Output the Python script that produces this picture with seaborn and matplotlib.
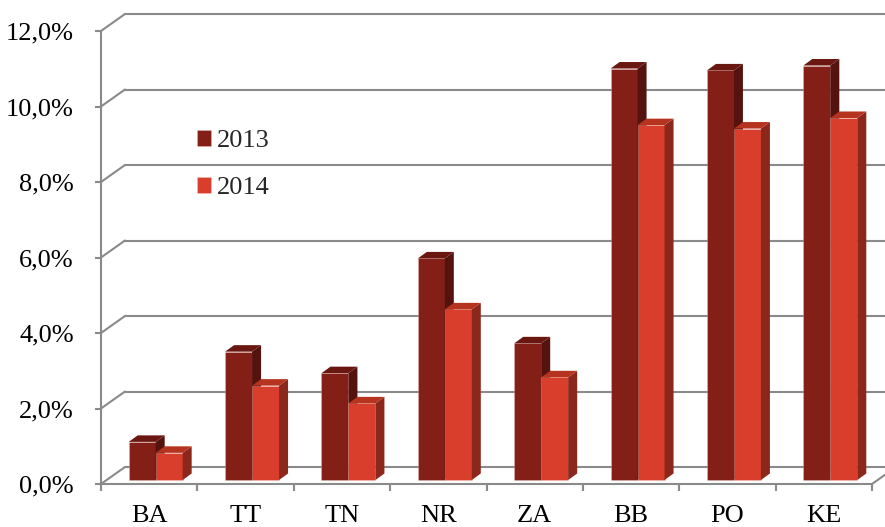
import numpy as np
import pandas as pd
import matplotlib
matplotlib.use("Agg")
import matplotlib.pyplot as plt
import seaborn as sns
from matplotlib.transforms import offset_copy, IdentityTransform
from matplotlib.patches import Polygon
from matplotlib.lines import Line2D
from matplotlib.ticker import FuncFormatter, FixedLocator

# ---- data ----
categories = ["BA", "TT", "TN", "NR", "ZA", "BB", "PO", "KE"]
years = ["2013", "2014"]
v2013 = [1.01, 3.40, 2.83, 5.87, 3.62, 10.90, 10.85, 10.98]
v2014 = [0.72, 2.50, 2.03, 4.52, 2.72, 9.40, 9.31, 9.59]
yticks = [0, 2, 4, 6, 8, 10, 12]

front_colors = ["#841F18", "#D93E2C"]
top_colors = ["#6A1711", "#B5331F"]
side_colors = ["#54130E", "#8C271C"]
grid_color = "#8A8A8A"

sns.set_theme(style="white")
plt.rcParams["font.family"] = ["Liberation Serif", "DejaVu Serif"]

df = pd.DataFrame({
    "region": categories * 2,
    "year": [years[0]] * len(categories) + [years[1]] * len(categories),
    "value": v2013 + v2014,
})

W, H = 885, 527
fig = plt.figure(figsize=(W / 100, H / 100), dpi=100)
fx0, fx1, fy0, fy1 = 101, 872, 31, 484
ax = fig.add_axes([fx0 / W, 1 - fy1 / H, (fx1 - fx0) / W, (fy1 - fy0) / H])

sns.barplot(data=df, x="region", y="value", hue="year", palette=front_colors,
            width=0.56, gap=0, saturation=1, errorbar=None, ax=ax,
            edgecolor=(1, 0.9, 0.87, 0.35), linewidth=0.5)
ax.set_xlim(-0.5, len(categories) - 0.5)
ax.set_ylim(0, 12)

BACK = (24, 17)
BAR = (6.5, 4)
DEPTH = (9, 6.5)

back_tr = offset_copy(ax.transData, fig=fig, x=BACK[0], y=BACK[1], units="dots")
bar_tr = offset_copy(ax.transData, fig=fig, x=BAR[0], y=BAR[1], units="dots")
ident = IdentityTransform()

# back wall gridlines and left wall diagonals
xl, xr = -0.5, len(categories) - 0.5
for v in yticks:
    ax.add_line(Line2D([xl, xr + 0.5], [v, v], transform=back_tr, color=grid_color,
                       lw=1.5, clip_on=False, zorder=0.5))
    p = ax.transData.transform((xl, v))
    ax.add_line(Line2D([p[0], p[0] + BACK[0]], [p[1], p[1] + BACK[1]], transform=ident,
                       color=grid_color, lw=1.5, clip_on=False, zorder=0.5))
# floor right edge
p = ax.transData.transform((xr, 0))
ax.add_line(Line2D([p[0], p[0] + BACK[0]], [p[1], p[1] + BACK[1]], transform=ident,
                   color=grid_color, lw=1.5, clip_on=False, zorder=0.5))

# 3D faces of bars
dx, dy = DEPTH
for j, cont in enumerate(ax.containers):
    for rect in cont:
        rect.set_transform(bar_tr)
        rect.set_zorder(3 + j)
        rect.set_clip_on(False)
        x, w, h = rect.get_x(), rect.get_width(), rect.get_height()
        px0, py0 = bar_tr.transform((x, 0))
        px1, py1 = bar_tr.transform((x + w, h))
        top = Polygon([(px0, py1), (px1, py1), (px1 + dx, py1 + dy), (px0 + dx, py1 + dy)],
                      closed=True, transform=ident, facecolor=top_colors[j],
                      edgecolor="none", zorder=3 + j, clip_on=False)
        side = Polygon([(px1, py0), (px1, py1), (px1 + dx, py1 + dy), (px1 + dx, py0 + dy)],
                       closed=True, transform=ident, facecolor=side_colors[j],
                       edgecolor="none", zorder=3 + j, clip_on=False)
        ax.add_patch(side)
        ax.add_patch(top)

# axes styling
for s in ["top", "right"]:
    ax.spines[s].set_visible(False)
for s in ["left", "bottom"]:
    ax.spines[s].set_color(grid_color)
    ax.spines[s].set_linewidth(1.5)

ax.yaxis.set_major_locator(FixedLocator(yticks))
ax.yaxis.set_major_formatter(FuncFormatter(lambda v, _: f"{v:.1f}".replace(".", ",") + "%"))
ax.set_xticks(range(len(categories)))
ax.set_xticklabels(categories)
ax.set_xticks(np.arange(-0.5, len(categories), 1.0), minor=True)
ax.tick_params(axis="y", left=True, direction="out", length=4.5, width=1.5,
               color=grid_color, pad=15, labelsize=19, labelcolor="black")
ax.tick_params(axis="x", which="major", bottom=True, length=0, pad=15,
               labelsize=19, labelcolor="black")
ax.tick_params(axis="x", which="minor", bottom=True, direction="out", length=5,
               width=1.5, color=grid_color)
ax.set_xlabel("")
ax.set_ylabel("")
ax.patch.set_alpha(0)

handles, labels = ax.get_legend_handles_labels()
ax.legend(handles=handles, labels=labels, loc="upper left",
          bbox_to_anchor=(197 / W, 1 - 130 / H), bbox_transform=fig.transFigure,
          frameon=False, fontsize=19, handlelength=0.54, handleheight=0.54,
          handletextpad=0.22, labelspacing=0.95, borderpad=0, borderaxespad=0)

fig.savefig("out.png", dpi=100)
